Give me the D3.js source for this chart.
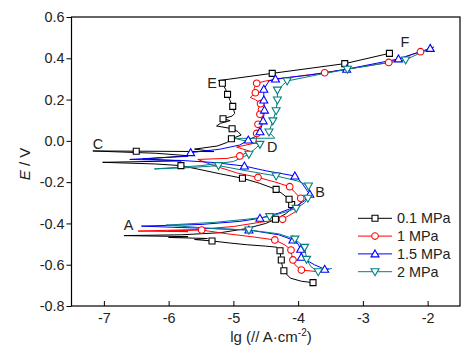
<!DOCTYPE html>
<html><head><meta charset="utf-8">
<script src="https://cdn.jsdelivr.net/npm/d3@7/dist/d3.min.js"></script>
<style>
html,body{margin:0;padding:0;background:#fff;}
svg{display:block;font-family:"Liberation Sans",Arial,sans-serif;}
</style></head>
<body>
<svg id="chart" width="472" height="355"></svg>
<script>
// ---------- data ----------
const seriesNames = ["0.1 MPa", "1 MPa", "1.5 MPa", "2 MPa"];
const xTicks = [-7, -6, -5, -4, -3, -2];
const yTicks = [-0.8, -0.6, -0.4, -0.2, 0.0, 0.2, 0.4, 0.6];
const yTickLabels = ["-0.8", "-0.6", "-0.4", "-0.2", "0.0", "0.2", "0.4", "0.6"];

// [lg i, E] along the scan
const line01 = [[-3.77,-0.687],[-3.95,-0.680],[-4.12,-0.665],[-4.20,-0.639],[-4.24,-0.610],[-4.26,-0.587],[-4.27,-0.560],[-4.28,-0.537],
 [-4.33,-0.515],[-4.5,-0.510],[-4.8,-0.503],[-5.05,-0.495],[-5.33,-0.485],[-5.6,-0.478],[-5.4,-0.473],[-6.0,-0.468],[-5.7,-0.464],[-6.69,-0.459],
 [-5.8,-0.455],[-5.2,-0.445],[-4.8,-0.425],[-4.5,-0.400],[-4.35,-0.380],[-4.2,-0.355],[-4.09,-0.327],[-4.10,-0.308],[-4.14,-0.283],[-4.25,-0.255],
 [-4.34,-0.235],[-4.6,-0.205],[-4.86,-0.181],[-5.2,-0.160],[-5.5,-0.140],[-5.81,-0.120],[-6.2,-0.112],[-7.02,-0.104],[-5.8,-0.097],[-6.4,-0.088],
 [-5.7,-0.072],[-6.2,-0.060],[-7.17,-0.049],[-6.5,-0.050],[-5.3,-0.052],[-5.6,-0.040],[-5.25,-0.025],[-5.1,-0.008],[-5.03,0.010],[-4.88,0.028],
 [-4.93,0.045],[-5.02,0.059],[-5.26,0.072],[-5.2,0.085],[-5.05,0.098],[-5.16,0.107],[-5.02,0.120],[-4.98,0.133],[-5.01,0.167],[-5.05,0.195],
 [-5.09,0.225],[-5.12,0.250],[-5.17,0.279],[-5.23,0.292],[-4.40,0.327],[-3.28,0.374],[-2.59,0.424]];
const marks01 = [[-3.77,-0.687],[-4.22,-0.629],[-4.26,-0.577],[-4.28,-0.532],[-5.33,-0.485],[-4.35,-0.380],[-4.10,-0.308],[-4.14,-0.283],
 [-4.34,-0.235],[-4.86,-0.181],[-5.81,-0.120],[-6.5,-0.050],[-5.03,0.010],[-5.02,0.059],[-5.16,0.107],[-5.01,0.167],[-5.09,0.225],[-5.17,0.279],
 [-4.40,0.327],[-3.28,0.374],[-2.59,0.424]];

const line1 = [[-3.65,-0.635],[-3.95,-0.626],[-4.05,-0.600],[-4.08,-0.577],[-4.10,-0.550],[-4.11,-0.529],[-4.2,-0.505],[-4.36,-0.480],[-4.7,-0.465],
 [-5.1,-0.450],[-5.49,-0.432],[-6.0,-0.436],[-5.7,-0.440],[-6.47,-0.437],[-5.6,-0.430],[-5.0,-0.415],[-4.6,-0.395],[-4.24,-0.380],[-4.05,-0.345],
 [-3.96,-0.300],[-3.96,-0.278],[-4.05,-0.250],[-4.13,-0.222],[-4.35,-0.200],[-4.62,-0.177],[-4.95,-0.155],[-5.3,-0.120],[-5.55,-0.090],[-5.1,-0.085],
 [-4.9,-0.073],[-4.75,-0.050],[-4.95,-0.030],[-4.65,-0.010],[-4.64,0.036],[-4.6,0.060],[-4.62,0.080],[-4.56,0.100],[-4.59,0.129],[-4.62,0.150],
 [-4.58,0.180],[-4.66,0.200],[-4.74,0.210],[-4.66,0.233],[-4.68,0.255],[-4.64,0.279],[-4.5,0.290],[-4.3,0.300],[-3.59,0.330],[-2.6,0.380],
 [-2.11,0.432],[-1.98,0.440]];
const marks1 = [[-3.95,-0.626],[-4.08,-0.577],[-4.11,-0.529],[-4.36,-0.480],[-5.49,-0.432],[-4.24,-0.380],[-3.96,-0.278],[-4.13,-0.222],
 [-4.62,-0.177],[-4.9,-0.073],[-4.64,0.036],[-4.62,0.080],[-4.59,0.129],[-4.58,0.180],[-4.66,0.233],[-4.64,0.279],[-3.59,0.330],[-2.6,0.380],[-2.11,0.432]];

const line15 = [[-3.52,-0.620],[-3.59,-0.622],[-3.75,-0.600],[-3.95,-0.564],[-3.96,-0.525],[-4.0,-0.500],[-4.08,-0.480],[-4.3,-0.455],[-4.6,-0.440],
 [-4.76,-0.432],[-5.3,-0.425],[-5.8,-0.420],[-6.42,-0.413],[-5.5,-0.405],[-4.9,-0.390],[-4.59,-0.375],[-4.3,-0.350],[-4.05,-0.320],[-3.9,-0.290],
 [-3.82,-0.259],[-3.86,-0.242],[-3.95,-0.200],[-4.05,-0.170],[-4.5,-0.145],[-4.83,-0.122],[-5.3,-0.105],[-5.8,-0.095],[-6.6,-0.090],[-5.7,-0.075],
 [-5.66,-0.057],[-5.2,-0.040],[-4.9,-0.020],[-4.77,0.004],[-4.6,0.030],[-4.59,0.044],[-4.54,0.097],[-4.52,0.149],[-4.53,0.198],[-4.53,0.250],
 [-4.45,0.290],[-4.35,0.300],[-3.8,0.320],[-3.25,0.347],[-2.45,0.397],[-1.96,0.448],[-1.9,0.455]];
const marks15 = [[-3.59,-0.622],[-3.95,-0.564],[-3.96,-0.525],[-4.08,-0.480],[-4.76,-0.432],[-4.59,-0.375],[-3.82,-0.259],[-4.05,-0.170],
 [-4.83,-0.122],[-5.66,-0.057],[-4.77,0.004],[-4.59,0.044],[-4.54,0.097],[-4.52,0.149],[-4.53,0.198],[-4.53,0.250],[-4.35,0.300],[-3.25,0.347],
 [-2.45,0.397],[-1.96,0.448]];

const line2 = [[-3.48,-0.618],[-3.69,-0.634],[-3.8,-0.610],[-3.87,-0.574],[-3.88,-0.550],[-3.9,-0.516],[-4.05,-0.476],[-4.3,-0.450],[-4.76,-0.432],
 [-5.3,-0.425],[-6.04,-0.408],[-5.3,-0.395],[-4.8,-0.380],[-4.44,-0.367],[-4.2,-0.345],[-4.03,-0.327],[-3.9,-0.300],[-3.85,-0.278],[-3.82,-0.250],
 [-3.84,-0.219],[-4.0,-0.195],[-4.34,-0.170],[-4.8,-0.145],[-5.23,-0.120],[-5.7,-0.130],[-6.22,-0.136],[-5.5,-0.120],[-5.0,-0.100],[-4.76,-0.065],
 [-4.59,-0.017],[-4.98,0.012],[-4.36,0.013],[-4.45,0.043],[-4.39,0.097],[-4.34,0.146],[-4.32,0.198],[-4.32,0.246],[-4.17,0.290],[-3.7,0.320],
 [-3.24,0.347],[-2.34,0.392],[-2.02,0.440]];
const marks2 = [[-3.69,-0.634],[-3.87,-0.574],[-3.9,-0.516],[-4.05,-0.476],[-4.76,-0.432],[-4.44,-0.367],[-4.03,-0.327],[-3.85,-0.278],
 [-3.84,-0.219],[-4.34,-0.170],[-5.23,-0.120],[-4.76,-0.065],[-4.59,-0.017],[-4.45,0.043],[-4.39,0.097],[-4.34,0.146],[-4.32,0.198],[-4.32,0.246],
 [-4.17,0.290],[-3.24,0.347],[-2.34,0.392]];

const annLabels = ["A", "B", "C", "D", "E", "F"];
const annLg = [-6.62, -3.66, -7.09, -4.40, -5.33, -2.35];
const annE = [-0.406, -0.250, -0.014, -0.032, 0.280, 0.480];

// ---------- drawing ----------
const svg = d3.select("#chart");
const x = d3.scaleLinear().domain([-7.5, -1.5]).range([71.5, 460]);
const y = d3.scaleLinear().domain([-0.8, 0.6]).range([306, 17]);

const colors = ["#000000", "#ff0000", "#0000ff", "#008080"];
const lines = [line01, line1, line15, line2];
const marks = [marks01, marks1, marks15, marks2];
const shapes = ["square", "circle", "up", "down"];

function shapePath(s) {
  if (s === "square") return "M-3,-3H3V3H-3Z";
  if (s === "circle") return "M3.3,0A3.3,3.3 0 1,1 -3.3,0A3.3,3.3 0 1,1 3.3,0Z";
  if (s === "up") return "M0,-4L4,3L-4,3Z";
  return "M0,4L4,-3L-4,-3Z";
}

const lineGen = d3.line().x(d => x(d[0])).y(d => y(d[1]));
const plot = svg.append("g");
lines.forEach((ln, i) => {
  plot.append("path").attr("d", lineGen(ln)).attr("fill", "none")
    .attr("stroke", colors[i]).attr("stroke-width", 1);
});
marks.forEach((mk, i) => {
  plot.selectAll(null).data(mk).enter().append("path")
    .attr("d", shapePath(shapes[i]))
    .attr("transform", d => `translate(${x(d[0])},${y(d[1])})`)
    .attr("fill", "#fff").attr("stroke", colors[i]).attr("stroke-width", 1.1);
});

// frame
svg.append("rect").attr("x", 71.5).attr("y", 17).attr("width", 460 - 71.5).attr("height", 306 - 17)
  .attr("fill", "none").attr("stroke", "#000").attr("stroke-width", 1.2);

const fs = "14.4px";
const xAxis = svg.append("g").attr("transform", "translate(0,306)")
  .call(d3.axisBottom(x).tickValues(xTicks).tickSizeInner(-5).tickSizeOuter(0).tickPadding(7).tickFormat(d => String(d)));
const yAxis = svg.append("g").attr("transform", "translate(71.5,0)")
  .call(d3.axisLeft(y).tickValues(yTicks).tickSizeInner(5).tickSizeOuter(0).tickPadding(2).tickFormat((d, i) => yTickLabels[i]));
[xAxis, yAxis].forEach(g => {
  g.select(".domain").remove();
  g.selectAll("line").attr("stroke", "#000").attr("stroke-width", 1);
  g.selectAll("text").attr("font-size", fs).attr("fill", "#222").attr("font-family", '"Liberation Sans",Arial,sans-serif');
});

// axis titles
const xt = svg.append("text").attr("x", 271).attr("y", 342).attr("text-anchor", "middle")
  .attr("font-size", "15px").attr("fill", "#222");
xt.append("tspan").text("lg (// A·cm");
xt.append("tspan").attr("font-size", "10px").attr("dy", -6).text("-2");
xt.append("tspan").attr("dy", 6).text(")");

const yt = svg.append("text").attr("transform", "translate(30,164) rotate(-90)")
  .attr("text-anchor", "middle").attr("font-size", "15px").attr("fill", "#222");
yt.append("tspan").attr("font-style", "italic").text("E");
yt.append("tspan").text(" / V");

// annotations
annLabels.forEach((t, i) => {
  svg.append("text").attr("x", x(annLg[i])).attr("y", y(annE[i]))
    .attr("text-anchor", "middle").attr("dominant-baseline", "central")
    .attr("font-size", "14.4px").attr("fill", "#222").text(t);
});

// legend
const leg = svg.append("g");
seriesNames.forEach((name, i) => {
  const cy = 218.3 + i * 17.8;
  leg.append("line").attr("x1", 358).attr("x2", 392).attr("y1", cy).attr("y2", cy)
    .attr("stroke", colors[i]).attr("stroke-width", 1);
  leg.append("path").attr("d", shapePath(shapes[i])).attr("transform", `translate(375,${cy})`)
    .attr("fill", "#fff").attr("stroke", colors[i]).attr("stroke-width", 1.1);
  leg.append("text").attr("x", 397).attr("y", cy).attr("dominant-baseline", "central")
    .attr("font-size", "14.4px").attr("fill", "#222").text(name);
});
</script>
</body></html>
